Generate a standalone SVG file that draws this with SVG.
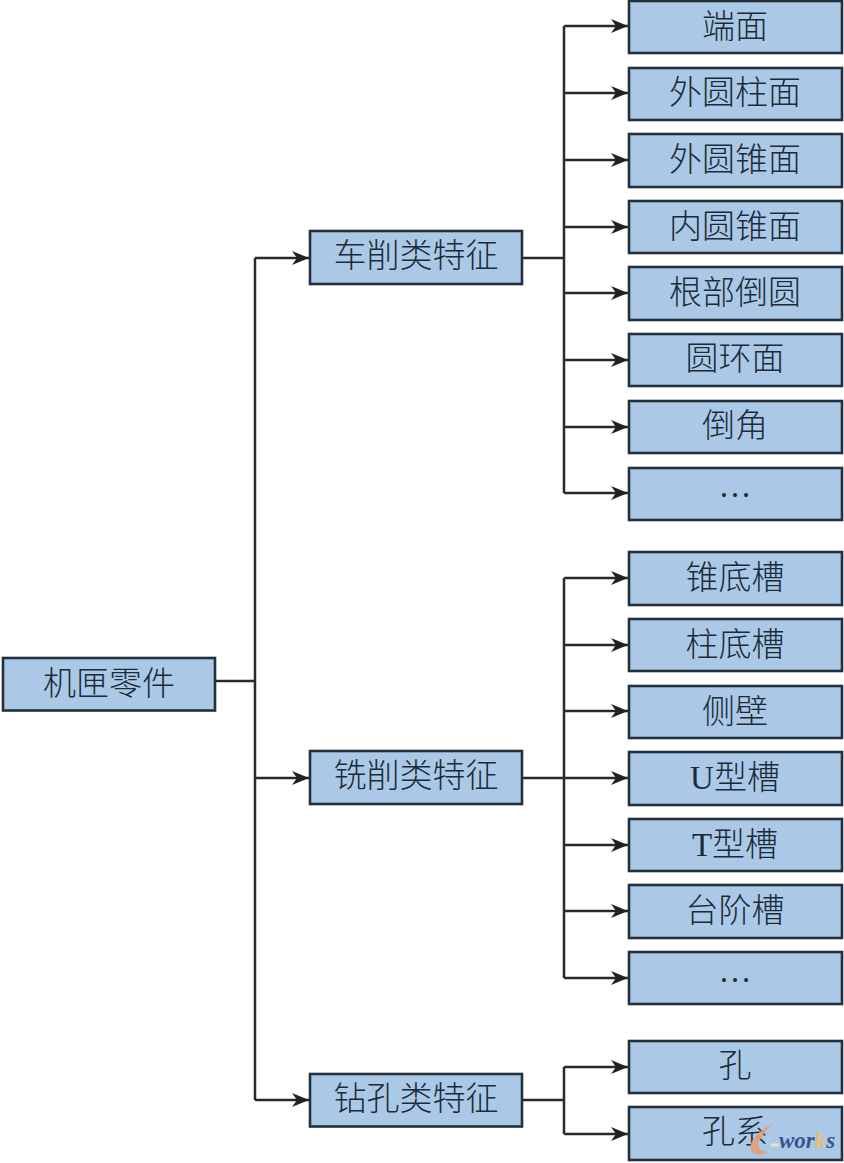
<svg xmlns="http://www.w3.org/2000/svg" width="844" height="1163" viewBox="0 0 844 1163">
<style>
.b{fill:#abc9e7;stroke:#24313d;stroke-width:2.6}
.t{font-family:"Liberation Serif","Noto Sans CJK SC",sans-serif;font-size:33px;font-weight:300;fill:#1a2c3a;text-anchor:middle}
.c{fill:none;stroke:#2a2a2a;stroke-width:2.5}
</style>
<defs><marker id="a" markerUnits="userSpaceOnUse" markerWidth="18" markerHeight="16" refX="17" refY="8" orient="auto"><path d="M0 1L17 8L0 15L5 8Z" fill="#222"/></marker></defs>
<rect width="844" height="1163" fill="#fff"/>
<g id="connectors" class="c">
<path d="M216 681H255"/>
<path d="M255 1100V258"/>
<path d="M255 258H309" marker-end="url(#a)"/>
<path d="M255 778H309" marker-end="url(#a)"/>
<path d="M255 1100H309" marker-end="url(#a)"/>
<path d="M523 258H564"/>
<path d="M564 493V26"/>
<path d="M564 26H628" marker-end="url(#a)"/>
<path d="M564 93H628" marker-end="url(#a)"/>
<path d="M564 160H628" marker-end="url(#a)"/>
<path d="M564 227H628" marker-end="url(#a)"/>
<path d="M564 293H628" marker-end="url(#a)"/>
<path d="M564 360H628" marker-end="url(#a)"/>
<path d="M564 427H628" marker-end="url(#a)"/>
<path d="M564 493H628" marker-end="url(#a)"/>
<path d="M523 778H564"/>
<path d="M564 978V578"/>
<path d="M564 578H628" marker-end="url(#a)"/>
<path d="M564 645H628" marker-end="url(#a)"/>
<path d="M564 711H628" marker-end="url(#a)"/>
<path d="M564 778H628" marker-end="url(#a)"/>
<path d="M564 845H628" marker-end="url(#a)"/>
<path d="M564 911H628" marker-end="url(#a)"/>
<path d="M564 978H628" marker-end="url(#a)"/>
<path d="M523 1100H564"/>
<path d="M564 1134V1067"/>
<path d="M564 1067H628" marker-end="url(#a)"/>
<path d="M564 1134H628" marker-end="url(#a)"/>
</g>
<g id="root"><rect class="b" x="3" y="658" width="212" height="52.500"/><text class="t" x="109" y="695">机匣零件</text></g>
<g id="m1"><rect class="b" x="310" y="231" width="212" height="53"/><text class="t" x="416" y="267">车削类特征</text></g>
<g id="m2"><rect class="b" x="310" y="751" width="212" height="53"/><text class="t" x="416" y="787">铣削类特征</text></g>
<g id="m3"><rect class="b" x="310" y="1074" width="212" height="52.500"/><text class="t" x="416" y="1110">钻孔类特征</text></g>
<g id="n1"><rect class="b" x="629" y="1" width="213" height="52"/><text class="t" x="735" y="38">端面</text></g>
<g id="n2"><rect class="b" x="629" y="68" width="213" height="52"/><text class="t" x="735" y="104">外圆柱面</text></g>
<g id="n3"><rect class="b" x="629" y="134" width="213" height="53"/><text class="t" x="735" y="171">外圆锥面</text></g>
<g id="n4"><rect class="b" x="629" y="201" width="213" height="52"/><text class="t" x="735" y="238">内圆锥面</text></g>
<g id="n5"><rect class="b" x="629" y="267" width="213" height="53"/><text class="t" x="735" y="304">根部倒圆</text></g>
<g id="n6"><rect class="b" x="629" y="334" width="213" height="52"/><text class="t" x="735" y="370">圆环面</text></g>
<g id="n7"><rect class="b" x="629" y="401" width="213" height="52"/><text class="t" x="735" y="437">倒角</text></g>
<g id="n8"><rect class="b" x="629" y="468" width="213" height="52"/><text class="t" x="735" y="497">…</text></g>
<g id="n9"><rect class="b" x="629" y="552" width="213" height="53"/><text class="t" x="735" y="589">锥底槽</text></g>
<g id="n10"><rect class="b" x="629" y="619" width="213" height="52"/><text class="t" x="735" y="656">柱底槽</text></g>
<g id="n11"><rect class="b" x="629" y="686" width="213" height="52"/><text class="t" x="735" y="723">侧壁</text></g>
<g id="n12"><rect class="b" x="629" y="752" width="213" height="53"/><text class="t" x="735" y="789">U型槽</text></g>
<g id="n13"><rect class="b" x="629" y="819" width="213" height="52"/><text class="t" x="735" y="856">T型槽</text></g>
<g id="n14"><rect class="b" x="629" y="885" width="213" height="53"/><text class="t" x="735" y="922">台阶槽</text></g>
<g id="n15"><rect class="b" x="629" y="952" width="213" height="52"/><text class="t" x="735" y="982">…</text></g>
<g id="n16"><rect class="b" x="629" y="1041" width="213" height="52"/><text class="t" x="735" y="1077">孔</text></g>
<g id="n17"><rect class="b" x="629" y="1107" width="213" height="53"/><text class="t" x="735" y="1143">孔系</text></g>
<g id="watermark">
<path d="M773 1124C758 1130 746 1144 752 1152C756 1156 764 1155 768 1152C760 1152 756 1146 760 1140C763 1134 768 1128 773 1124Z" fill="#e0a077" opacity=".9"/>
<path d="M771 1145H779" stroke="#eadfc8" stroke-width="3"/>
<text x="779" y="1148" font-family="Liberation Serif,serif" font-size="23" font-weight="700" font-style="italic" fill="#34568f">wor<tspan fill="#e8bd6e">k</tspan>s</text>
</g>
</svg>
